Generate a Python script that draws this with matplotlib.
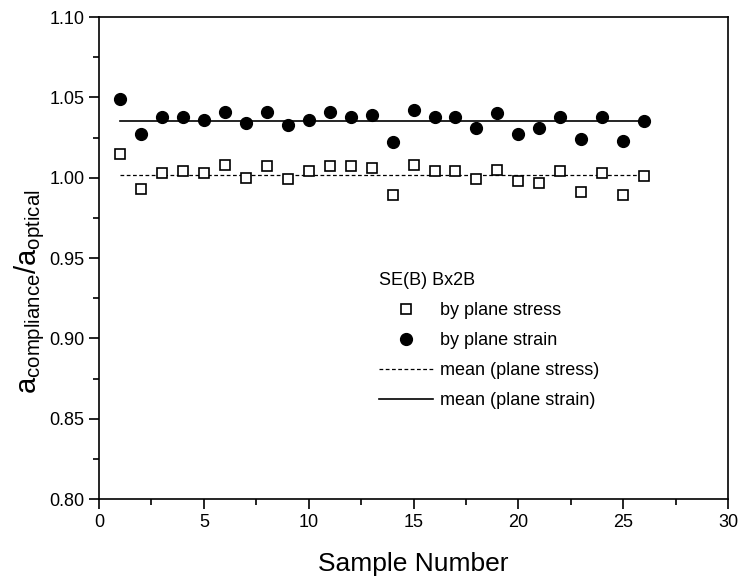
import matplotlib
matplotlib.use('Agg')
import matplotlib.pyplot as plt
from matplotlib.ticker import MultipleLocator

plt.rcParams['font.family'] = ['Liberation Sans', 'DejaVu Sans']
plt.rcParams['mathtext.fontset'] = 'custom'
plt.rcParams['mathtext.rm'] = 'Liberation Sans'

# data
samples = list(range(1, 27))
plane_stress = [1.015, 0.993, 1.003, 1.004, 1.003, 1.008, 1.000, 1.007, 0.999, 1.004,
                1.007, 1.007, 1.006, 0.989, 1.008, 1.004, 1.004, 0.999, 1.005, 0.998,
                0.997, 1.004, 0.991, 1.003, 0.989, 1.001]
plane_strain = [1.049, 1.027, 1.038, 1.038, 1.036, 1.041, 1.034, 1.041, 1.033, 1.036,
                1.041, 1.038, 1.039, 1.022, 1.042, 1.038, 1.038, 1.031, 1.040, 1.027,
                1.031, 1.038, 1.024, 1.038, 1.023, 1.035]
mean_stress = 1.002
mean_strain = 1.035

fig = plt.figure(figsize=(7.41, 5.77), dpi=100)
ax = fig.add_axes([0.1336, 0.135, 0.849, 0.8355])

h1, = ax.plot(samples, plane_stress, 's', mfc='white', mec='black', ms=7.5, mew=1.2,
              linestyle='none', label='by plane stress', zorder=3)
h2, = ax.plot(samples, plane_strain, 'o', color='black', ms=8.5,
              linestyle='none', label='by plane strain', zorder=3)
h3, = ax.plot([samples[0], samples[-1]], [mean_stress, mean_stress], color='black',
              lw=0.9, dashes=(3, 2), label='mean (plane stress)')
h4, = ax.plot([samples[0], samples[-1]], [mean_strain, mean_strain], color='black',
              lw=1.2, label='mean (plane strain)')

ax.set_xlim(0, 30)
ax.set_ylim(0.80, 1.10)
ax.xaxis.set_major_locator(MultipleLocator(5))
ax.xaxis.set_minor_locator(MultipleLocator(2.5))
ax.yaxis.set_major_locator(MultipleLocator(0.05))
ax.yaxis.set_minor_locator(MultipleLocator(0.025))
ax.yaxis.set_major_formatter(plt.FormatStrFormatter('%.2f'))
ax.tick_params(which='both', direction='out', top=False, right=False, labelsize=13, width=1.2)
ax.tick_params(which='major', length=7)
ax.tick_params(which='minor', length=4)
for s in ax.spines.values():
    s.set_linewidth(1.2)

ax.set_xlabel('Sample Number', fontsize=19, labelpad=15)
ax.set_ylabel(r'$\mathregular{a_{compliance}/a_{optical}}$', fontsize=21, labelpad=3)
ax.yaxis.set_label_coords(-0.082, 0.43)

leg = ax.legend(handles=[h1, h2, h3, h4], title='SE(B) Bx2B', loc='upper left',
                bbox_to_anchor=(0.43, 0.49), frameon=False, fontsize=13,
                title_fontsize=13, handlelength=3.0, handletextpad=0.4,
                labelspacing=0.72, borderpad=0, alignment='left')

plt.savefig('out.png', dpi=100)
